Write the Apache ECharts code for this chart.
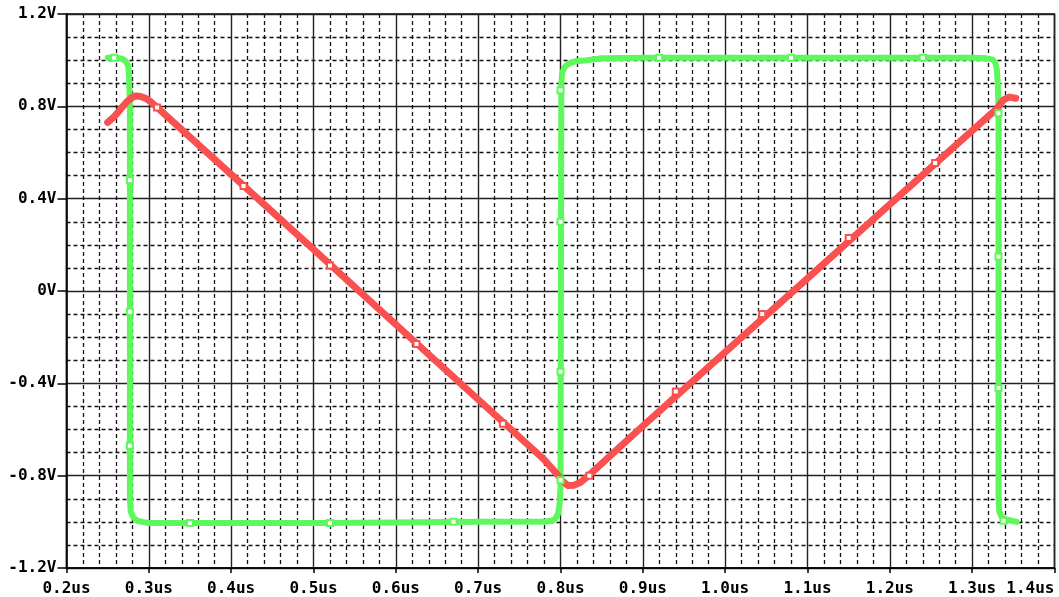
<!DOCTYPE html>
<html><head><meta charset="utf-8">
<script src="https://cdn.jsdelivr.net/npm/echarts@6/dist/echarts.min.js"></script>
<style>html,body{margin:0;padding:0;background:#fff}#c{width:1059px;height:597px}</style>
</head><body><div id="c"></div>
<script>
var xTickLabels = ['0.2us','0.3us','0.4us','0.5us','0.6us','0.7us','0.8us','0.9us','1.0us','1.1us','1.2us','1.3us','1.4us'];
var yTickLabels = ['-1.2V','-0.8V','-0.4V','0V','0.4V','0.8V','1.2V'];

// Square wave (green), time in us, volts
var greenX = [0.250,0.262,0.268,0.272,0.275,0.276,0.277,0.277,0.278,0.281,0.286,0.292,0.300,0.320,0.400,0.500,0.600,0.700,0.780,0.790,0.794,0.797,0.799,0.800,0.801,0.802,0.805,0.810,0.818,0.832,0.850,0.900,1.000,1.100,1.200,1.300,1.318,1.325,1.328,1.330,1.331,1.332,1.332,1.333,1.336,1.341,1.348,1.354];
var greenY = [1.010,1.010,1.005,0.995,0.975,0.930,0.800,-0.900,-0.955,-0.980,-0.995,-1.000,-1.005,-1.005,-1.005,-1.005,-1.003,-1.000,-1.000,-0.995,-0.985,-0.965,-0.920,-0.850,0.900,0.945,0.970,0.985,0.995,1.000,1.008,1.010,1.010,1.010,1.010,1.010,1.008,1.002,0.990,0.960,0.900,0.800,-0.900,-0.955,-0.980,-0.990,-0.995,-1.000];
var greenMarkX = [0.258,0.277,0.277,0.277,0.350,0.520,0.670,0.800,0.800,0.800,0.800,0.920,1.080,1.240,1.332,1.332,1.332,1.338];
var greenMarkY = [1.010,0.480,-0.090,-0.670,-1.005,-1.005,-1.000,0.870,0.300,-0.350,-0.820,1.010,1.010,1.010,0.770,0.150,-0.420,-0.995];

// Triangle wave (red)
var redX = [0.250,0.258,0.265,0.272,0.278,0.284,0.290,0.296,0.302,0.310,0.400,0.500,0.600,0.700,0.780,0.795,0.803,0.809,0.816,0.824,0.834,0.900,1.000,1.100,1.200,1.300,1.330,1.338,1.345,1.353];
var redY = [0.730,0.755,0.785,0.815,0.835,0.845,0.843,0.835,0.820,0.795,0.505,0.180,-0.145,-0.470,-0.730,-0.790,-0.825,-0.843,-0.842,-0.830,-0.800,-0.585,-0.265,0.055,0.375,0.695,0.790,0.828,0.840,0.835];
var redMarkX = [0.310,0.415,0.520,0.625,0.730,0.835,0.940,1.045,1.150,1.255];
var redMarkY = [0.795,0.455,0.110,-0.230,-0.575,-0.800,-0.435,-0.100,0.230,0.555];

function zip(a,b){var r=[];for(var i=0;i<a.length;i++)r.push([a[i],b[i]]);return r;}

var FONT = 'DejaVu Sans Mono';
var GREEN = '#5cf85c', RED = '#fb5050';
var chart = echarts.init(document.getElementById('c'), null, {renderer:'canvas'});
chart.setOption({
  animation:false,
  backgroundColor:'#ffffff',
  grid:{left:66.5,right:4.5,top:14,bottom:28.5,show:true,borderColor:'#000',borderWidth:1.5,backgroundColor:'transparent'},
  xAxis:{
    type:'value',min:0.2,max:1.4,interval:0.1,
    axisLine:{show:true,onZero:false,lineStyle:{color:'#000',width:1.5}},
    axisTick:{show:true,length:5,lineStyle:{color:'#000',width:1.5}},
    axisLabel:{color:'#000',fontFamily:FONT,fontWeight:'bold',fontSize:16,margin:13,alignMaxLabel:'right',
      formatter:function(v){return xTickLabels[Math.round((v-0.2)/0.1)];}},
    splitLine:{show:true,lineStyle:{color:'#222',width:1.4}},
    minorTick:{show:false,splitNumber:5},
    minorSplitLine:{show:true,lineStyle:{color:'#111',width:1.3,type:[4,3]}}
  },
  yAxis:{
    type:'value',min:-1.2,max:1.2,interval:0.4,
    axisLine:{show:true,onZero:false,lineStyle:{color:'#000',width:1.5}},
    axisTick:{show:true,length:9,lineStyle:{color:'#000',width:1.5}},
    axisLabel:{color:'#000',fontFamily:FONT,fontWeight:'bold',fontSize:16,margin:10,
      formatter:function(v){return yTickLabels[Math.round((v+1.2)/0.4)];}},
    splitLine:{show:true,lineStyle:{color:'#222',width:1.4}},
    minorTick:{show:false,splitNumber:4},
    minorSplitLine:{show:true,lineStyle:{color:'#111',width:1.3,type:[4,3]}}
  },
  series:[
    {type:'line',data:zip(greenX,greenY),showSymbol:false,symbol:'none',smooth:false,
      lineStyle:{color:GREEN,width:6,join:'round',cap:'round'},z:3},
    {type:'line',data:zip(redX,redY),showSymbol:false,symbol:'none',smooth:false,
      lineStyle:{color:RED,width:7,join:'round',cap:'round'},z:4},
    {type:'scatter',data:zip(greenMarkX,greenMarkY),symbol:'rect',symbolSize:6,
      itemStyle:{color:'#ffffff',borderColor:GREEN,borderWidth:2,opacity:1},z:5},
    {type:'scatter',data:zip(redMarkX,redMarkY),symbol:'rect',symbolSize:6,
      itemStyle:{color:'#ffffff',borderColor:RED,borderWidth:2,opacity:1},z:6}
  ]
});
</script></body></html>
